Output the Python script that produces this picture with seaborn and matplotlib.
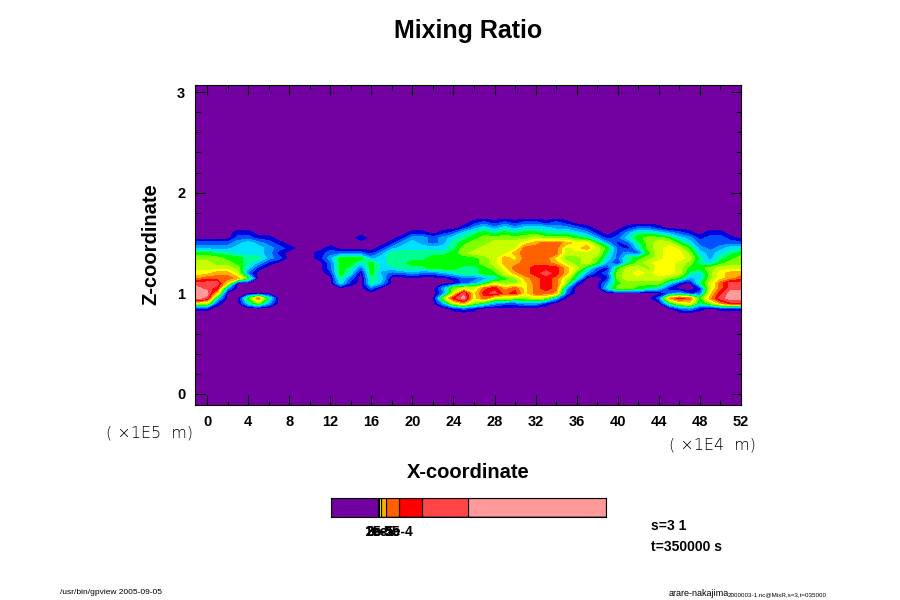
import numpy as np
import pandas as pd
import seaborn as sns
import matplotlib
matplotlib.use("Agg")
import matplotlib.pyplot as plt
from matplotlib.ticker import MultipleLocator

# level index, one hex digit per grid point (x = -1 .. 52)
z_rows = [1.75, 1.70, 1.65, 1.60, 1.55, 1.50, 1.45, 1.40, 1.35, 1.30,
          1.25, 1.20, 1.15, 1.10, 1.05, 1.00, 0.95, 0.90, 0.85, 0.80]
field_rows = [
    "0000000000 0000000000 0000000000 0000000000 0000000000 0000",
    "0000000000 0000000000 0000000121 2122121000 0000000000 0000",
    "0000000000 0000000000 0000001343 4344433210 0012210000 0000",
    "0000110000 0000000000 0110124565 6566555431 0135543210 1100",
    "0000221100 0000001000 1332345677 7778777653 1246776431 2210",
    "2222343210 0000000001 3432356778 889abba996 3125788642 2222",
    "3333444321 0001000013 4444457788 88bbbb89a8 6214789863 2344",
    "6655444310 0012222135 5555567888 8abbbb8888 5232689974 3456",
    "7776655320 0013666345 5556666678 a9bbb97787 4256789985 3567",
    "8877653100 0002664645 5666666678 aabbba8786 3157899875 4677",
    "8888741000 0002652644 5556665567 9bbccca852 1688799866 7888",
    "99aa820000 0001640632 2322345566 8abcdca631 2789899854 79aa",
    "abbba60000 0000520540 0000012234 67abcb8500 1788887634 79ab",
    "ddd9000000 0000410530 0000002358 779bcb7100 3677774105 8bdd",
    "edc3000000 0000000200 00003788bc ab9bcb3000 4776541001 8bdd",
    "ee90000000 0000000000 000028d9cd bc9bba2000 0000002312 9cee",
    "ed4006b500 0000000000 00007ce9b8 8778730000 000002acb6 adee",
    "8810047300 0000000000 000038a753 2233100000 0000005895 7acc",
    "1100000000 0000000000 0000012100 0000000000 0000000231 0111",
    "0000000000 0000000000 0000000000 0000000000 0000000000 0000",
]
level_colors = ["#7300a0", "#0000dc", "#0050ff", "#00a0ff", "#00e0ff",
                "#00ff90", "#00ff00", "#80ff00", "#c8ff00", "#ffff00",
                "#ffb000", "#ff6000", "#ff0000", "#ff4545", "#ff9a9a"]

x_ticks = list(range(0, 53, 4))
z_ticks = [0, 1, 2, 3]

# colour strip: segment edges as a share of its length, and its labels
cb_edges = [0, .170, .176, .182, .200, .249, .332, .499, 1]
cb_colors = ["#7300a0", "#c8ff00", "#ffff00", "#ffb000", "#ff6000",
             "#ff0000", "#ff4545", "#ff9a9a"]
cb_labels = ["1e-5", "2e-5", "3e-5", "5e-5", "1e-4"]

sns.set_theme(style="ticks")
plt.rcParams["font.family"] = ["Liberation Sans", "DejaVu Sans"]

W, H = 900, 600


def box(left, top, right, bottom):
    return [left / W, 1 - bottom / H, (right - left) / W, (bottom - top) / H]


def label(fig, x, y, s, **kw):
    kw.setdefault("ha", "center")
    kw.setdefault("va", "center")
    fig.text(x / W, 1 - y / H, s, color="black", **kw)


field = np.array([[int(c, 16) for c in r.replace(" ", "")] for r in field_rows])
xlim = (-1.17, 52)
x_grid = np.arange(field.shape[1]) - 1.0
x_grid[0] = xlim[0]

fig = plt.figure(figsize=(W / 100, H / 100), dpi=100, facecolor="white")

ax = fig.add_axes(box(195, 85, 741, 405))
ax.set_facecolor(level_colors[0])
ax.contourf(x_grid, z_rows, field, levels=np.arange(-0.5, 15), colors=level_colors,
            antialiased=False)
ax.set_xlim(*xlim)
ax.set_ylim(-0.11, 3.07)
ax.set_xticks(x_ticks)
ax.set_yticks(z_ticks)
ax.xaxis.set_minor_locator(MultipleLocator(2))
ax.yaxis.set_minor_locator(MultipleLocator(0.2))
ax.tick_params(which="major", direction="in", length=7.5, width=0.8, top=True, right=True,
               color="black", pad=7, labelsize=10.5, labelcolor="black")
ax.tick_params(which="minor", direction="in", length=3.5, width=0.8, top=True, right=True,
               color="black")
# ticks point inward, tick labels sit outside
for t in ax.get_xticklabels() + ax.get_yticklabels():
    t.set_fontweight("bold")
sns.despine(ax=ax, top=False, right=False)
for s in ax.spines.values():
    s.set_color("black")
    s.set_linewidth(0.8)

cax = fig.add_axes(box(331, 498, 606, 517))
strip = pd.DataFrame({
    "mid": [(a + b) / 2 for a, b in zip(cb_edges[:-1], cb_edges[1:])],
    "seg": [str(i) for i in range(len(cb_colors))],
})
sns.histplot(data=strip, x="mid", bins=cb_edges, hue="seg", palette=cb_colors, alpha=1,
             edgecolor="black", linewidth=0.8, legend=False, ax=cax)
cax.set_xlim(0, 1)
cax.set_ylim(0, 1)
cax.set_xlabel("")
cax.set_ylabel("")
cax.set_yticks([])
cax.set_xticks(cb_edges[1:6])
cax.set_xticklabels(cb_labels, fontweight="bold", fontsize=10, color="black")
cax.tick_params(axis="x", length=0, pad=6)
sns.despine(ax=cax, top=False, right=False)
for s in cax.spines.values():
    s.set_color("black")
    s.set_linewidth(0.8)

label(fig, 468, 31, "Mixing Ratio", fontsize=18, fontweight="bold")
label(fig, 151, 244, "Z-coordinate", fontsize=14.5, fontweight="bold", rotation=90)
label(fig, 468, 473, "X-coordinate", fontsize=14.5, fontweight="bold")
label(fig, 149, 433, "( \u00d71E5  m)", fontsize=11.5, family="DejaVu Sans", fontweight="light")
label(fig, 712, 445, "( \u00d71E4  m)", fontsize=11.5, family="DejaVu Sans", fontweight="light")
label(fig, 651, 526, "s=3 1", ha="left", fontsize=10, fontweight="bold")
label(fig, 651, 547, "t=350000 s", ha="left", fontsize=10, fontweight="bold")
label(fig, 60, 593, "/usr/bin/gpview 2005-09-05", ha="left", fontsize=6)
label(fig, 669, 594, "arare-nakajima", ha="left", fontsize=6.5)
label(fig, 728, 595, "2000003-1.nc@MixR,s=3,t=035000", ha="left", fontsize=4.5)

fig.savefig("out.png", dpi=100)
plt.close(fig)
